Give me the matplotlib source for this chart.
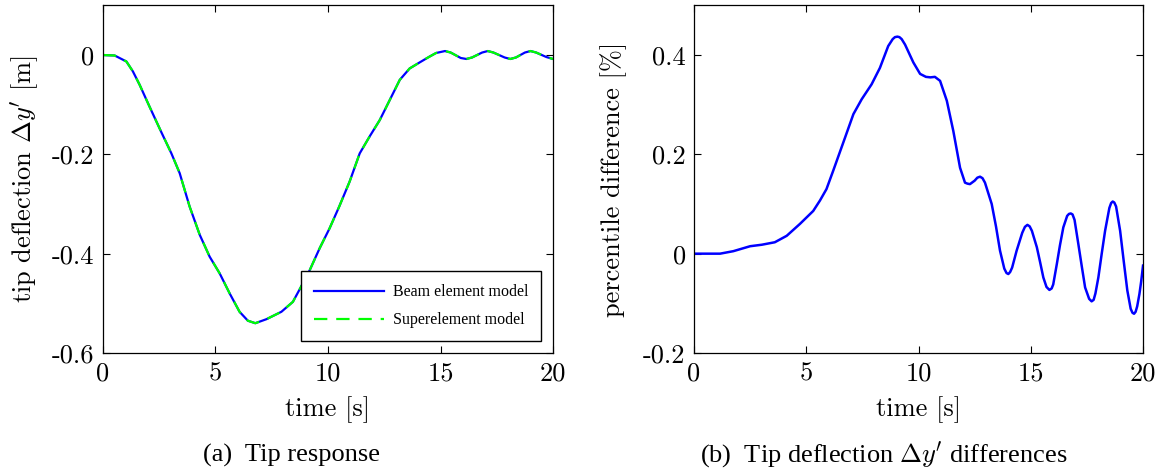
import matplotlib
matplotlib.use('Agg')
import matplotlib.pyplot as plt

plt.rcParams['font.family'] = ['Liberation Serif', 'DejaVu Serif']
plt.rcParams['mathtext.fontset'] = 'cm'
plt.rcParams['axes.unicode_minus'] = False

CM = ['cmr10', 'DejaVu Serif']

# tip response (both models overlap)
t_tip = [0, 0.52, 1.04, 1.33, 1.63, 2.07, 2.59, 3.04, 3.41, 3.85, 4.3, 4.74, 5.19, 5.63,
         6.07, 6.44, 6.77, 7.26, 7.93, 8.44, 8.81, 9.19, 9.63, 10.07, 10.5, 10.96, 11.41,
         11.85, 12.3, 12.74, 13.19, 13.63, 14.07, 14.52, 14.8, 15.2, 15.45, 15.9, 16.15,
         16.4, 16.85, 17.1, 17.35, 17.85, 18.1, 18.35, 18.75, 19.0, 19.25, 19.7, 20.0]
y_beam = [0, -0.001, -0.013, -0.033, -0.06, -0.104, -0.155, -0.198, -0.238, -0.305,
          -0.362, -0.406, -0.44, -0.48, -0.517, -0.535, -0.54, -0.532, -0.517, -0.497,
          -0.466, -0.433, -0.389, -0.349, -0.305, -0.255, -0.198, -0.164, -0.131, -0.091,
          -0.05, -0.027, -0.015, -0.003, 0.004, 0.008, 0.005, -0.006, -0.008, -0.005,
          0.005, 0.008, 0.005, -0.005, -0.008, -0.005, 0.005, 0.008, 0.005, -0.004, -0.008]
y_super = y_beam

# percentile difference
t_diff = [0, 1.16, 1.75, 2.5, 3.02, 3.6, 4.13, 4.72, 5.31, 5.61, 5.9, 6.2, 6.73, 7.1,
          7.47, 7.91, 8.28, 8.65, 8.85, 8.95, 9.06, 9.15, 9.25, 9.4, 9.77, 10.07, 10.33,
          10.53, 10.73, 10.96, 11.26, 11.55, 11.85, 12.07, 12.18, 12.29, 12.5, 12.62,
          12.74, 12.85, 12.96, 13.26, 13.45, 13.63, 13.82, 13.92, 14.0, 14.08, 14.17,
          14.37, 14.62, 14.74, 14.85, 14.95, 15.05, 15.27, 15.42, 15.56, 15.7, 15.83,
          15.93, 16.0, 16.16, 16.3, 16.45, 16.62, 16.7, 16.78, 16.86, 16.95, 17.12, 17.27,
          17.42, 17.6, 17.71, 17.8, 17.88, 18.01, 18.16, 18.31, 18.5, 18.58, 18.65, 18.72,
          18.8, 18.98, 19.14, 19.3, 19.45, 19.53, 19.6, 19.67, 19.74, 19.84, 19.92, 20.0]
d_diff = [0, 0, 0.005, 0.015, 0.018, 0.023, 0.036, 0.06, 0.086, 0.107, 0.13, 0.167,
          0.234, 0.281, 0.311, 0.341, 0.374, 0.418, 0.432, 0.436, 0.437, 0.436, 0.432,
          0.421, 0.385, 0.362, 0.356, 0.355, 0.356, 0.348, 0.308, 0.247, 0.173, 0.143,
          0.141, 0.14, 0.147, 0.153, 0.155, 0.152, 0.143, 0.1, 0.055, 0.006, -0.03,
          -0.039, -0.041, -0.037, -0.028, 0.006, 0.042, 0.054, 0.058, 0.055, 0.046, 0.013,
          -0.018, -0.048, -0.067, -0.073, -0.07, -0.062, -0.021, 0.017, 0.053, 0.076, 0.08,
          0.081, 0.079, 0.068, 0.019, -0.025, -0.068, -0.091, -0.096, -0.093, -0.08,
          -0.048, 0.0, 0.046, 0.092, 0.102, 0.105, 0.103, 0.095, 0.046, -0.015, -0.074,
          -0.111, -0.119, -0.121, -0.117, -0.106, -0.081, -0.055, -0.024]

fig = plt.figure(figsize=(11.66, 4.73), dpi=100)
ax1 = fig.add_axes([0.0883, 0.2537, 0.386, 0.735])
ax2 = fig.add_axes([0.5952, 0.2537, 0.3851, 0.735])

ax1.plot(t_tip, y_beam, color='#0000ff', lw=1.6, label='Beam element model')
ax1.plot(t_tip, y_super, color='#00ff00', lw=1.6, dashes=(6, 4), label='Superelement model')
ax1.set_xlim(0, 20)
ax1.set_ylim(-0.6, 0.1)
ax1.set_yticks([0, -0.2, -0.4, -0.6])
ax1.set_yticklabels(['0', '-0.2', '-0.4', '-0.6'])
ax1.set_xlabel('time [s]', fontsize=19, family=CM, labelpad=8)
ax1.set_ylabel(r"tip deflection $\Delta y'$ [m]", fontsize=19, family=CM, labelpad=8)
leg = ax1.legend(loc='lower right', fontsize=11.5, fancybox=False, edgecolor='black',
                 framealpha=1, borderpad=0.8, labelspacing=0.75, handlelength=4.4,
                 handletextpad=0.55, borderaxespad=0.75)
leg.get_frame().set_linewidth(1.0)

ax2.plot(t_diff, d_diff, color='#0000ff', lw=1.8)
ax2.set_xlim(0, 20)
ax2.set_ylim(-0.2, 0.5)
ax2.set_yticks([-0.2, 0, 0.2, 0.4])
ax2.set_yticklabels(['-0.2', '0', '0.2', '0.4'])
ax2.set_xlabel('time [s]', fontsize=19, family=CM, labelpad=8)
ax2.set_ylabel('percentile difference [%]', fontsize=19, family=CM, labelpad=12)

for ax in (ax1, ax2):
    ax.set_xticks([0, 5, 10, 15, 20])
    ax.tick_params(direction='in', top=True, right=True, length=5, width=0.8,
                   labelsize=19, pad=6)
    for lab in ax.get_xticklabels() + ax.get_yticklabels():
        lab.set_family(CM)
    for s in ax.spines.values():
        s.set_linewidth(0.9)

fig.text(0.25, 0.038, '(a)  Tip response', ha='center', va='center', fontsize=19)
fig.text(0.758, 0.038, r"(b)  Tip deflection $\Delta y'$ differences", ha='center',
         va='center', fontsize=19)

fig.savefig('out.png', dpi=100)
